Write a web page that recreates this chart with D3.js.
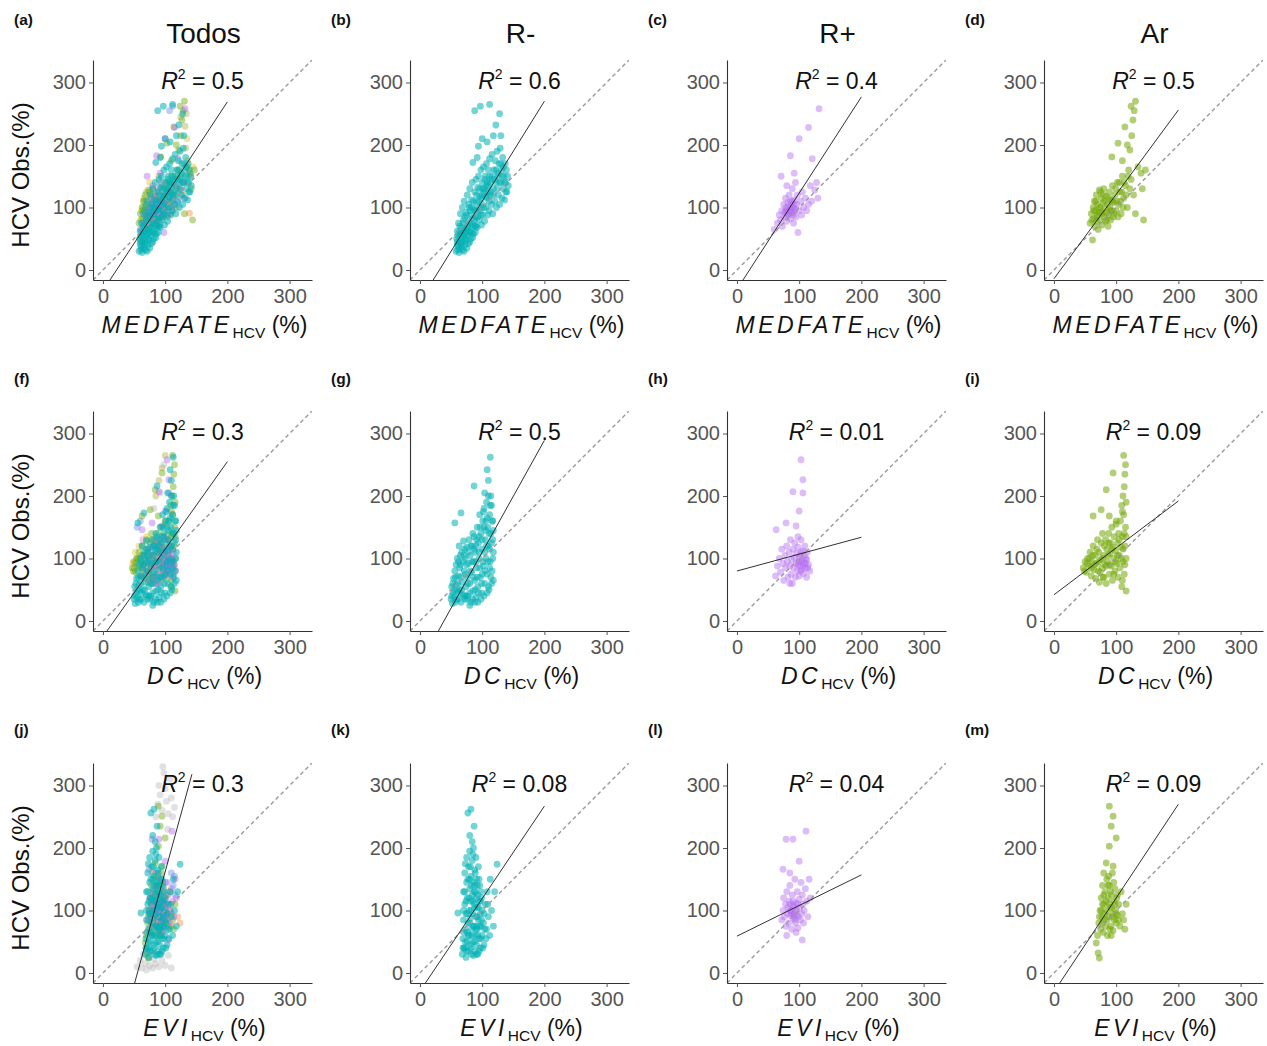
<!DOCTYPE html>
<html><head><meta charset="utf-8">
<script src="https://cdn.jsdelivr.net/npm/d3@7"></script>
<style>body{margin:0;background:#fff} svg{display:block;font-family:"Liberation Sans",Arial,sans-serif}</style>
</head><body><svg id="c" width="1267" height="1046"></svg>
<script>
// ---------- categories / labels ----------
const columnTitles = ["Todos", "R-", "R+", "Ar"];
const rowVariables = ["MEDFATE", "DC", "EVI"];
const panelLetters = [["(a)","(b)","(c)","(d)"],["(f)","(g)","(h)","(i)"],["(j)","(k)","(l)","(m)"]];
const r2Values = [["0.5","0.6","0.4","0.5"],["0.3","0.5","0.01","0.09"],["0.3","0.08","0.04","0.09"]];
const axisTicks = [0, 100, 200, 300];
// regression lines (intercept, slope, x range end)
const fitIntercept = [[-33,-50,-31,-14],[-25,-69,80,42],[-201,-29,59,-30]];
const fitSlope = [[1.51,1.60,1.54,1.35],[1.40,1.79,0.27,0.75],[3.63,1.48,0.49,1.50]];
const fitXMax = [[200,200,200,200],[200,200,200,200],[143,200,200,200]];

// ---------- point data: [predicted, observed] ----------
const rminusMedfate = [[58,30],[60,45],[60,62],[62,38],[62,75],[63,28],[64,55],[65,90],[66,42],[67,68],
[68,32],[68,100],[70,52],[70,80],[71,110],[72,40],[73,65],[74,92],[75,35],[76,120],
[77,55],[78,78],[79,100],[80,45],[80,130],[81,62],[82,88],[83,112],[84,140],[85,52],
[86,72],[87,98],[88,125],[89,60],[90,145],[90,85],[91,108],[92,68],[93,132],[94,150],
[95,80],[96,118],[97,95],[98,160],[99,72],[100,140],[100,105],[101,88],[102,165],[103,125],
[104,78],[105,150],[106,100],[107,170],[108,115],[109,88],[110,135],[110,160],[111,95],[112,178],
[113,120],[114,145],[115,105],[116,185],[117,90],[118,130],[119,160],[120,110],[121,175],[122,140],
[123,100],[124,190],[125,150],[126,120],[127,170],[128,105],[129,195],[130,140],[131,160],[132,115],
[133,180],[134,130],[135,150],[136,112],[137,170],[138,140],[139,160],[140,125],[141,150],[142,135],
[59,50],[61,33],[63,60],[65,35],[66,50],[68,62],[69,45],[71,30],[72,58],[74,48],[76,70],[78,42],
[79,60],[82,50],[84,70],[86,58],[88,80],[90,70],[92,95],[96,100],[100,120],[104,130],[108,140],[112,150],
[60,40],[61,55],[63,45],[64,70],[66,58],[67,40],[69,75],[70,62],[72,85],[73,50],[75,60],[75,88],
[77,68],[78,105],[80,75],[81,95],[83,60],[83,100],[85,82],[86,110],[88,95],[89,70],[91,120],[93,85],
[94,110],[96,130],[98,88],[99,115],[101,130],[102,100],[104,145],[106,118],[107,135],[109,125],[111,110],[112,140],
[114,125],[116,150],[118,120],[120,145],[122,160],[124,130],[126,155],[128,140],[130,170],[132,150],[134,165],[136,140],[138,125],
[88,255],[97,262],[112,265],[128,250],[122,232],[100,210],[94,198],[108,205],[118,215],[130,215],[85,172],[92,180]];
const rplusMedfate = [[60,65],[65,75],[68,88],[70,80],[72,95],[73,70],[75,105],[76,85],[77,92],[78,115],
[79,100],[80,78],[81,95],[82,108],[83,88],[84,120],[85,98],[86,82],[87,105],[88,92],
[89,130],[90,100],[91,75],[92,112],[93,95],[94,140],[95,85],[96,105],[97,120],[98,60],
[100,95],[102,110],[104,88],[105,125],[107,100],[110,115],[112,95],[115,105],[118,135],[120,110],
[78,95],[82,100],[84,90],[86,110],[88,100],[90,92],[92,105],[94,98],[80,88],[87,95],[91,88],[89,110],
[125,128],[130,115],[71,150],[86,183],[100,210],[115,228],[121,178],[132,258],[128,140],[92,155],[80,135]];
const arMedfate = [[58,75],[60,90],[62,48],[63,100],[64,82],[65,110],[66,70],[67,95],[68,120],[69,85],
[70,105],[71,65],[72,92],[73,128],[74,80],[75,100],[76,115],[77,72],[78,90],[79,108],
[80,130],[81,85],[82,98],[83,78],[84,118],[85,92],[86,105],[87,70],[88,88],[89,125],
[90,100],[91,80],[92,112],[93,95],[94,135],[95,85],[96,108],[98,120],[100,95],[102,140],
[104,105],[106,125],[108,90],[110,150],[112,115],[115,135],[118,100],[120,160],[124,145],[128,120],
[61,80],[64,95],[67,110],[70,88],[73,100],[76,92],[79,120],[82,110],[85,80],[88,115],[91,95],[94,110],
[97,90],[99,130],[101,110],[103,85],[105,140],[107,110],[109,125],[111,100],[113,140],[116,120],[119,150],[122,130],[75,125],[68,78],
[131,90],[135,165],[140,155],[144,80],[147,160],[142,130],
[93,181],[103,203],[114,229],[122,192],[125,215],[127,240],[129,255],[131,270],[124,262],[118,200],[110,175]];
const rminusDc = [[50,35],[51,55],[52,28],[53,45],[54,68],[55,38],[56,80],[57,30],[58,58],[59,48],
[60,100],[61,35],[62,72],[63,120],[64,50],[65,90],[66,30],[67,110],[68,62],[69,42],
[70,128],[71,80],[72,35],[73,100],[74,55],[75,118],[76,70],[77,40],[78,92],[79,130],
[80,60],[81,105],[82,30],[83,78],[84,120],[85,48],[86,95],[87,135],[88,65],[89,110],
[90,38],[91,85],[92,150],[93,55],[94,125],[95,100],[96,170],[97,70],[98,140],[99,45],
[100,115],[101,160],[102,88],[103,180],[104,60],[105,130],[106,100],[107,190],[108,75],[109,150],
[110,120],[110,200],[111,50],[112,170],[113,95],[114,140],[115,185],[116,80],[117,160],[118,110],
[115,60],[117,130],[112,85],[106,160],[100,75],[95,135],[90,120],[85,140],[72,115],[65,105],
[58,90],[62,95],[76,35],[88,30],[98,35],[108,45],[118,65],[103,40],[93,30],[80,25],
[51,40],[53,60],[55,50],[57,70],[59,35],[61,60],[62,45],[64,85],[66,70],[67,50],[69,95],[70,40],
[71,105],[73,75],[74,40],[75,90],[77,60],[78,110],[80,45],[81,80],[82,120],[84,95],[85,35],[86,70],
[87,115],[89,50],[90,95],[91,130],[92,70],[94,45],[95,110],[96,85],[97,150],[99,60],[100,130],[101,95],
[102,175],[104,110],[105,80],[106,145],[108,165],[109,95],[110,55],[111,140],[112,115],[113,185],[114,70],
[115,125],[116,160],[117,100],[118,145],[107,120],[103,150],
[56,157],[66,173],[87,216],[108,242],[113,262],[110,225],[104,205],[114,200]];
const rplusDc = [[62,72],[65,88],[68,100],[70,78],[72,115],[74,92],[75,65],[77,105],[78,85],[80,120],
[81,95],[82,70],[84,110],[85,88],[86,130],[87,75],[88,98],[89,60],[90,115],[91,85],
[92,102],[93,125],[94,70],[95,92],[96,108],[97,80],[98,118],[99,95],[100,72],[101,88],
[102,105],[103,130],[104,82],[105,98],[106,112],[107,76],[108,92],[109,120],[110,85],[111,100],
[112,70],[113,110],[115,90],[117,80],
[98,90],[100,100],[102,80],[104,95],[106,88],[108,105],[110,92],[112,98],[114,85],[103,110],
[63,146],[79,157],[95,152],[100,176],[90,207],[106,205],[106,226],[103,258],[98,135],[85,60]];
const arDc = [[47,85],[50,95],[52,78],[54,100],[56,88],[58,110],[60,72],[61,95],[63,120],[64,82],
[66,105],[67,68],[68,92],[70,130],[71,80],[72,110],[73,62],[75,98],[76,125],[77,85],
[78,140],[79,70],[80,105],[82,90],[83,130],[84,60],[85,115],[86,95],[88,140],[89,75],
[90,108],[91,125],[92,88],[93,150],[94,65],[95,118],[96,100],[97,135],[98,80],[99,112],
[100,155],[101,92],[102,125],[103,70],[104,140],[105,105],[106,85],[107,160],[108,118],[109,55],
[110,135],[111,95],[112,170],[113,75],[114,120],[115,150],[116,48],[116,100],[113,140],[110,65],
[49,80],[53,92],[57,100],[60,85],[62,105],[65,90],[69,115],[72,95],[74,78],[78,100],[81,120],[84,88],
[87,105],[90,90],[93,115],[96,75],[99,95],[102,105],[105,130],[108,100],[111,115],[114,90],[116,135],[88,125],[80,70],
[109,185],[111,200],[113,215],[114,235],[115,250],[112,265],[110,175],[116,190],
[95,237],[84,210],[76,178],[63,168],[89,168],[100,160]];
const rminusEvi = [[68,30],[69,55],[70,85],[70,130],[71,40],[72,110],[72,160],[73,70],[74,25],[74,95],
[75,145],[75,185],[76,50],[76,120],[77,80],[78,35],[78,170],[79,100],[79,60],[80,135],
[80,195],[81,45],[81,88],[82,115],[82,155],[83,30],[83,70],[84,125],[84,180],[85,95],
[85,50],[86,145],[86,200],[87,75],[87,110],[88,35],[88,165],[89,60],[89,130],[90,90],
[90,185],[91,45],[91,150],[92,105],[92,70],[93,125],[93,30],[94,85],[94,170],[95,55],
[95,115],[96,140],[97,40],[97,95],[98,75],[99,120],[100,60],[100,100],[102,80],[103,45],
[105,110],[107,70],[108,130],[110,90],[112,60],[113,150],[115,100],[118,75],[120,130],[124,174],
[69,40],[70,100],[71,65],[72,130],[73,50],[73,175],[74,115],[75,35],[76,95],[77,150],[78,60],[79,120],
[80,80],[81,170],[82,40],[82,100],[83,140],[84,60],[85,115],[85,190],[86,75],[87,130],[88,50],[88,105],
[89,160],[90,70],[90,120],[91,30],[92,90],[92,140],[93,60],[94,105],[95,35],[95,150],[96,75],[97,115],
[98,55],[98,130],[99,85],[101,40],[103,95],[104,70],[106,55],[109,110],
[77,256],[82,262],[87,235],[80,220],[84,210],[61,96],[72,40],[76,65],[86,28],[91,75],[80,150],[88,140]];
const rplusEvi = [[72,85],[74,100],[75,120],[76,90],[78,110],[79,75],[80,130],[81,95],[82,105],[83,80],
[84,115],[85,140],[86,92],[87,100],[88,70],[89,125],[90,88],[91,108],[92,95],[93,150],
[94,80],[95,112],[96,100],[97,130],[98,72],[99,90],[100,118],[101,105],[102,85],[103,145],
[104,95],[105,125],[106,110],[107,80],[108,100],[110,135],[112,115],[114,90],[116,150],[118,120],
[85,100],[88,95],[90,105],[92,90],[94,100],[96,92],[98,110],[86,110],[90,115],[93,85],
[79,214],[90,214],[111,227],[100,179],[74,166],[105,53],[85,160],[95,65],[80,60]];
const arEvi = [[70,60],[72,80],[74,100],[75,70],[76,120],[77,90],[78,140],[79,65],[80,110],[81,85],
[82,130],[83,75],[84,100],[85,150],[86,60],[87,120],[88,90],[89,140],[90,105],[91,75],
[92,125],[93,95],[94,160],[95,68],[96,115],[97,85],[98,135],[99,100],[100,80],[101,120],
[102,92],[104,110],[106,75],[108,130],[110,95],[112,85],[114,70],[116,110],
[73,90],[76,100],[78,80],[80,125],[82,95],[84,115],[86,85],[87,140],[89,110],[90,70],
[91,130],[93,105],[95,90],[96,145],[98,110],[100,95],[102,125],[104,85],[78,110],[92,60],
[84,176],[95,171],[89,203],[100,216],[95,251],[89,267],[92,235],[73,24],[71,32],[68,48],[80,160],[88,155]];
// other groups only present in "Todos": [pred, obs, colour index]
const otrosMedfate = [[134,250,5],[132,230,5],[135,210,1],[133,195,5],[136,175,1],[138,160,5],[130,140,1],[139,91,2],
[107,255,3],[112,262,3],[64,101,1],[66,115,5],[62,95,1],[70,125,5],[75,140,1],[68,88,5],
[125,245,5],[145,165,1],[141,150,2],[90,150,5]];
const otrosDc = [[48,93,1],[50,85,5],[52,110,1],[55,100,5],[58,120,1],[64,130,4],[60,160,3],[55,150,3],
[70,135,1],[72,110,5],[75,90,1],[80,130,5],[85,200,5],[90,225,5],[95,245,5],[100,265,5],[82,180,0],
[92,205,0],[98,250,0],[62,70,1],[68,80,5],[78,65,2]];
const otrosEvi = [[55,10,0],[60,20,0],[62,8,0],[65,30,0],[68,15,0],[70,5,0],[72,25,0],[75,12,0],[78,35,0],[80,8,0],
[82,22,0],[85,15,0],[88,30,0],[90,10,0],[95,20,0],[100,12,0],[105,28,0],[110,8,0],
[85,250,0],[88,270,0],[90,300,0],[92,285,0],[95,260,0],[98,320,0],[100,295,0],[102,275,0],[105,255,0],[108,310,0],
[110,280,0],[112,250,0],[96,330,0],[115,265,0],[104,230,0],
[115,155,3],[113,140,3],[116,125,3],[110,160,3],[95,80,2],[100,85,2],[110,75,2],[120,90,2],[124,80,2],[88,70,1],
[92,85,1],[96,65,1],[85,78,1],[108,100,5],[100,145,3]];

const groupColors = {rminus: "#00B0B4", rplus: "#B46CF0", ar: "#72A808"};
const otrosColors = ["#B5B5B5", "#DDBE1E", "#EE8A3A", "#5A7FE0", "#E36FC8", "#A6A82E"];

const groupData = [
  {rminus: rminusMedfate, rplus: rplusMedfate, ar: arMedfate, otros: otrosMedfate},
  {rminus: rminusDc, rplus: rplusDc, ar: arDc, otros: otrosDc},
  {rminus: rminusEvi, rplus: rplusEvi, ar: arEvi, otros: otrosEvi}
];

// ---------- layout ----------
const svg = d3.select("#c");
const plotW = 219, plotH = 220;
const colLeft = [93, 410, 727, 1044];
const rowTop = [60, 411, 763];
const letterY = [25, 384, 735];
const domain = [-16, 336];
const x = d3.scaleLinear().domain(domain).range([0, plotW]);
const y = d3.scaleLinear().domain(domain).range([plotH, 0]);
const tickColor = "#555";

svg.append("defs").append("clipPath").attr("id", "clip")
  .append("rect").attr("width", plotW).attr("height", plotH);

// column titles
columnTitles.forEach((t, c) => {
  svg.append("text").attr("x", colLeft[c] + plotW / 2 + 1).attr("y", 43)
    .attr("text-anchor", "middle").attr("font-size", 28).attr("fill", "#111").text(t);
});

rowVariables.forEach((v, r) => {
  columnTitles.forEach((t, c) => {
    const g = svg.append("g").attr("transform", `translate(${colLeft[c]},${rowTop[r]})`);
    // panel letter
    svg.append("text").attr("x", colLeft[c] - 79).attr("y", letterY[r])
      .attr("font-size", 15.5).attr("font-weight", "bold").attr("fill", "#111").text(panelLetters[r][c]);

    const plot = g.append("g").attr("clip-path", "url(#clip)");
    // points
    const d = groupData[r];
    let series;
    if (c === 0) {
      series = [
        {pts: d.otros, color: p => otrosColors[p[2]], op: 0.4},
        {pts: d.ar, color: () => groupColors.ar, op: 0.45},
        {pts: d.rplus, color: () => groupColors.rplus, op: 0.45},
        {pts: d.rminus, color: () => groupColors.rminus, op: 0.55}
      ];
    } else {
      const key = ["", "rminus", "rplus", "ar"][c];
      series = [{pts: d[key], color: () => groupColors[key], op: key === "rplus" ? 0.45 : 0.55}];
    }
    series.forEach(s => {
      plot.append("g").selectAll("circle").data(s.pts).join("circle")
        .attr("cx", p => x(p[0])).attr("cy", p => y(p[1])).attr("r", 3.4)
        .attr("fill", s.color).attr("fill-opacity", s.op);
    });
    // 1:1 line
    plot.append("line").attr("x1", x(domain[0])).attr("y1", y(domain[0]))
      .attr("x2", x(domain[1])).attr("y2", y(domain[1]))
      .attr("stroke", "#9a9a9a").attr("stroke-width", 1.4).attr("stroke-dasharray", "4,3");
    // fit line
    const a = fitIntercept[r][c], b = fitSlope[r][c];
    const fx = [0, fitXMax[r][c]];
    plot.append("line").attr("x1", x(fx[0])).attr("y1", y(a + b * fx[0]))
      .attr("x2", x(fx[1])).attr("y2", y(a + b * fx[1]))
      .attr("stroke", "#1a1a1a").attr("stroke-width", 0.9);

    // axes
    const ax = g.append("g").attr("transform", `translate(0,${plotH})`)
      .call(d3.axisBottom(x).tickValues(axisTicks).tickSize(4).tickSizeOuter(0).tickPadding(5));
    const ay = g.append("g")
      .call(d3.axisLeft(y).tickValues(axisTicks).tickSize(4).tickSizeOuter(0).tickPadding(3));
    [ax, ay].forEach(a2 => {
      a2.select(".domain").attr("stroke", "#333").attr("stroke-width", 1.1);
      a2.selectAll(".tick line").attr("stroke", "#555");
      a2.selectAll(".tick text").attr("font-size", 20).attr("fill", tickColor)
        .attr("font-family", '"Liberation Sans",Arial,sans-serif');
    });

    // R2 label
    const rt = g.append("text").attr("x", x(160)).attr("y", y(290)).attr("text-anchor", "middle")
      .attr("font-size", 23).attr("fill", "#111");
    rt.append("tspan").attr("font-style", "italic").text("R");
    rt.append("tspan").attr("font-size", 14).attr("dy", -10).text("2");
    rt.append("tspan").attr("dy", 10).text(" = " + r2Values[r][c]);

    // x axis title
    const xt = g.append("text").attr("x", plotW / 2 + 2).attr("y", plotH + 53).attr("text-anchor", "middle")
      .attr("font-size", 23).attr("fill", "#111");
    xt.append("tspan").attr("font-style", "italic").attr("letter-spacing", 3.5).text(v);
    xt.append("tspan").attr("font-size", 15.5).attr("dy", 5).text("HCV");
    xt.append("tspan").attr("dy", -5).text(" (%)");

    // y axis title only first column
    if (c === 0) {
      svg.append("text").attr("transform", `translate(29,${rowTop[r] + plotH / 2 + 5}) rotate(-90)`)
        .attr("text-anchor", "middle").attr("font-size", 24).attr("fill", "#111").text("HCV Obs.(%)");
    }
  });
});
</script></body></html>
